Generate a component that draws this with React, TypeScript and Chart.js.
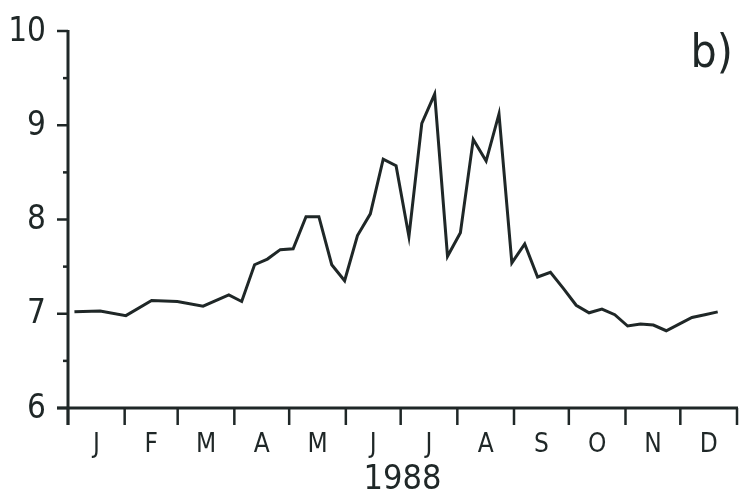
import React, { useEffect, useRef } from "react";
import { Chart, registerables } from "chart.js";

Chart.register(...registerables);

// Week numbers of the plotted samples (1988, weekly; early weeks every second week)
const weeks = [
  1, 3, 5, 7, 9, 11, 13, 14, 15, 16, 17, 18, 19, 20, 21, 22, 23, 24, 25, 26,
  27, 28, 29, 30, 31, 32, 33, 34, 35, 36, 37, 38, 39, 40, 41, 42, 43, 44, 45,
  46, 47, 48, 49, 50, 51,
];
const values = [
  7.02, 7.03, 6.98, 7.14, 7.13, 7.08, 7.2, 7.13, 7.52, 7.58, 7.68, 7.69, 8.03,
  8.03, 7.52, 7.35, 7.83, 8.06, 8.64, 8.57, 7.82, 9.02, 9.33, 7.61, 7.86, 8.85,
  8.62, 9.12, 7.54, 7.74, 7.39, 7.44, 7.27, 7.09, 7.01, 7.05, 6.99, 6.87, 6.89,
  6.88, 6.82, 6.89, 6.96, 6.99, 7.02,
];
const monthLabels = ["J", "F", "M", "A", "M", "J", "J", "A", "S", "O", "N", "D"];
const monthStartDays = [0, 31, 60, 91, 121, 152, 182, 213, 244, 274, 305, 335, 366];
const daysInYear = 366;
const weeksInYear = 52;
const yMajorTicks = [6, 7, 8, 9, 10];
const yMinorTicks = [6.5, 7.5, 8.5, 9.5];
const yearLabel = "1988";
const panelLabel = "b)";

const INK = "#1f2727";
const FONT = "'Liberation Sans Narrow', 'DejaVu Sans Condensed', 'Liberation Sans', sans-serif";

const dayToWeek = (d: number) => (d / daysInYear) * weeksInYear;

const axesPlugin = {
  id: "customAxes",
  beforeDatasetsDraw(chart: any) {
    const { ctx, scales } = chart;
    const xs = scales.x;
    const ys = scales.y;
    const x0 = xs.getPixelForValue(0);
    const x1 = xs.getPixelForValue(weeksInYear);
    const yb = ys.getPixelForValue(6);
    const yt = ys.getPixelForValue(10);
    const xTickLen = 17;
    ctx.save();
    ctx.strokeStyle = INK;
    ctx.lineCap = "butt";

    // y axis line
    ctx.lineWidth = 3;
    ctx.beginPath();
    ctx.moveTo(x0, yt - 1);
    ctx.lineTo(x0, yb + xTickLen);
    ctx.stroke();

    // x axis line
    ctx.beginPath();
    ctx.moveTo(x0 - 11, yb);
    ctx.lineTo(x1 + 1, yb);
    ctx.stroke();

    // y major ticks
    ctx.lineWidth = 2.5;
    yMajorTicks.forEach((v) => {
      const py = ys.getPixelForValue(v);
      ctx.beginPath();
      ctx.moveTo(x0 - 11, py);
      ctx.lineTo(x0, py);
      ctx.stroke();
    });
    // y minor ticks
    yMinorTicks.forEach((v) => {
      const py = ys.getPixelForValue(v);
      ctx.beginPath();
      ctx.moveTo(x0 - 5, py);
      ctx.lineTo(x0, py);
      ctx.stroke();
    });

    // x ticks at month boundaries
    monthStartDays.forEach((d) => {
      const px = xs.getPixelForValue(dayToWeek(d));
      ctx.beginPath();
      ctx.moveTo(px, yb);
      ctx.lineTo(px, yb + xTickLen);
      ctx.stroke();
    });

    // y labels
    ctx.fillStyle = INK;
    ctx.font = `33px ${FONT}`;
    ctx.textAlign = "right";
    ctx.textBaseline = "middle";
    yMajorTicks.forEach((v) => {
      const py = ys.getPixelForValue(v);
      ctx.fillText(String(v), x0 - 22, py + 1);
    });

    // month labels
    ctx.font = `26px ${FONT}`;
    ctx.textAlign = "center";
    ctx.textBaseline = "alphabetic";
    monthLabels.forEach((m, i) => {
      const mid = (monthStartDays[i] + monthStartDays[i + 1]) / 2;
      const px = xs.getPixelForValue(dayToWeek(mid));
      ctx.fillText(m, px, 452);
    });

    // year label
    ctx.font = `34px ${FONT}`;
    ctx.fillText(yearLabel, (x0 + x1) / 2, 489);

    // panel label
    ctx.font = `46px ${FONT}`;
    ctx.textAlign = "right";
    ctx.fillText(panelLabel, 733, 67);

    ctx.restore();
  },
};

export default function App() {
  const ref = useRef<HTMLCanvasElement | null>(null);

  useEffect(() => {
    document.body.style.margin = "0";
    const canvas = ref.current;
    if (!canvas) return;
    const chart = new Chart(canvas, {
      type: "line",
      data: {
        datasets: [
          {
            data: weeks.map((w, i) => ({ x: w - 0.5, y: values[i] })),
            borderColor: INK,
            borderWidth: 3,
            pointRadius: 0,
            tension: 0,
            fill: false,
            clip: false as any,
          },
        ],
      },
      options: {
        animation: false,
        responsive: false,
        maintainAspectRatio: false,
        devicePixelRatio: 1,
        layout: { padding: { left: 68, right: 6, top: 31, bottom: 86 } },
        plugins: {
          legend: { display: false },
          tooltip: { enabled: false },
          title: { display: false },
        },
        scales: {
          x: { type: "linear", min: 0, max: weeksInYear, display: false },
          y: { type: "linear", min: 6, max: 10, display: false },
        },
      },
      plugins: [axesPlugin],
    });
    return () => chart.destroy();
  }, []);

  return (
    <div style={{ width: 743, height: 494, background: "#fff" }}>
      <canvas ref={ref} width={743} height={494} style={{ width: 743, height: 494, display: "block" }} />
    </div>
  );
}
